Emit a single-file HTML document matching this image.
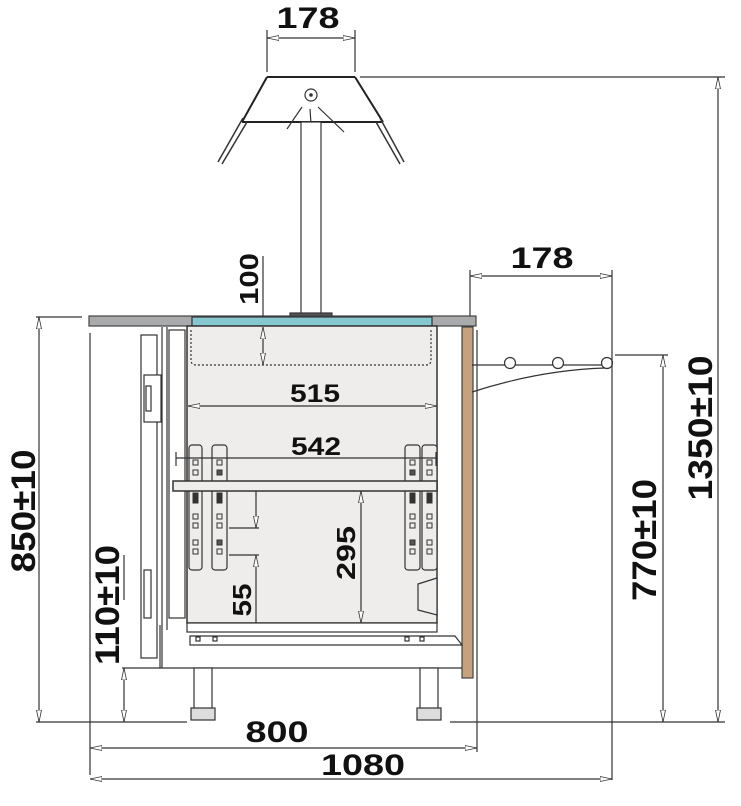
<!DOCTYPE html>
<html><head><meta charset="utf-8"><style>html,body{margin:0;padding:0;background:#fff}svg{display:block}text{font-family:"Liberation Sans",sans-serif;font-weight:bold;fill:#111}</style></head><body>
<svg width="741" height="806" viewBox="0 0 741 806" xmlns="http://www.w3.org/2000/svg">
<defs>
<marker id="a" viewBox="0 0 12 6" refX="12" refY="3" markerWidth="12" markerHeight="6" orient="auto-start-reverse" markerUnits="userSpaceOnUse"><path d="M0,0.5 L12,3 L0,5.5 Z" fill="#fff" stroke="#333" stroke-width="0.8"/></marker>
</defs>
<g stroke="#333" stroke-width="1.2" fill="none">
<!-- top 178 -->
<line x1="267" y1="30" x2="267" y2="72"/><line x1="355" y1="30" x2="355" y2="72"/>
<line x1="267" y1="38" x2="355" y2="38" marker-start="url(#a)" marker-end="url(#a)"/>
<!-- hood -->
<path d="M267,77 L355,77 M267,77 L242,122 M355,77 L383,122 M242,122 L383,122" stroke="#222" stroke-width="2"/>
<path d="M243,118 L218,162 M247,122 L222,164 M380,118 L404,162 M376,122 L400,164" stroke-width="1.5"/>
<circle cx="311" cy="95" r="6"/><circle cx="311" cy="95" r="1.2" fill="#333"/>
<path d="M302,107 L287,129 M310,109 L312,139 M318,107 L344,132"/>
<rect x="301" y="122" width="20" height="193" fill="#fff"/>
<rect x="290" y="313" width="42" height="3" fill="#555"/>
<line x1="360" y1="77" x2="725" y2="77"/>
<!-- 1350 -->
<line x1="718" y1="77" x2="718" y2="722" marker-start="url(#a)" marker-end="url(#a)"/>
<!-- countertop -->
<rect x="89" y="316" width="387" height="10" fill="#a9aaab" stroke="#444"/>
<rect x="192" y="317" width="240" height="9" fill="#86c8d0" stroke="#333"/>
<!-- cabinet interior -->
<rect x="187" y="326" width="250" height="297" fill="#eeedeb" stroke="#333" stroke-width="1.5"/>
<path d="M191,330 L191,360 Q191,365 196,365 L426,365 Q431,365 431,360 L431,330" stroke-dasharray="2,2"/>
<!-- left frame/door -->
<line x1="90" y1="333" x2="90" y2="775"/>
<rect x="141" y="335" width="16" height="323" fill="#fff"/>
<rect x="144" y="375" width="17" height="47" fill="#fff"/>
<rect x="146" y="386" width="5" height="25"/>
<rect x="144" y="570" width="7" height="48"/>
<line x1="162" y1="327" x2="162" y2="668"/>
<line x1="167" y1="327" x2="167" y2="630"/>
<rect x="169" y="330" width="16" height="288" fill="#fff"/>
<!-- wood panel -->
<rect x="462" y="327" width="11" height="351" fill="#c5a27d" stroke="#444"/>
<!-- base -->
<path d="M160,625 L160,668 L462,668"/>
<rect x="187" y="623" width="250" height="9" fill="#fff"/>
<path d="M190,636 L455,636 L462,645 L190,645 Z" fill="#fff"/>
<rect x="196" y="637" width="4" height="4"/><rect x="213" y="637" width="4" height="4"/><rect x="405" y="637" width="4" height="4"/><rect x="420" y="637" width="4" height="4"/>
<path d="M418,584 L437,578 L437,615 L418,610 Z" fill="#eeedeb"/>
<!-- legs -->
<rect x="194" y="668" width="18" height="42" fill="#fff"/><rect x="191" y="708" width="24" height="12" fill="#ddd"/>
<rect x="420" y="668" width="18" height="42" fill="#fff"/><rect x="417" y="708" width="24" height="12" fill="#ddd"/>
<!-- rails -->
<rect x="189" y="445" width="13" height="125" rx="3" fill="#eeedeb"/>
<rect x="212" y="445" width="15" height="125" rx="3" fill="#eeedeb"/>
<rect x="405" y="445" width="15" height="125" rx="3" fill="#eeedeb"/>
<rect x="422" y="445" width="15" height="125" rx="3" fill="#eeedeb"/>
<g stroke-width="1">
<rect x="193" y="460" width="5" height="5"/><rect x="193" y="470" width="5" height="5"/><rect x="193" y="493" width="5" height="10" fill="#333"/><rect x="193" y="514" width="5" height="5"/><rect x="193" y="523" width="5" height="5"/><rect x="193" y="540" width="5" height="5"/><rect x="193" y="549" width="5" height="5"/>
<rect x="217" y="460" width="5" height="5"/><rect x="217" y="470" width="5" height="5" fill="#555"/><rect x="217" y="493" width="5" height="10" fill="#333"/><rect x="217" y="514" width="5" height="5"/><rect x="217" y="523" width="5" height="5"/><rect x="217" y="540" width="5" height="5" fill="#555"/><rect x="217" y="549" width="5" height="5"/>
<rect x="410" y="460" width="5" height="5"/><rect x="410" y="470" width="5" height="5" fill="#555"/><rect x="410" y="493" width="5" height="10" fill="#333"/><rect x="410" y="514" width="5" height="5"/><rect x="410" y="523" width="5" height="5"/><rect x="410" y="540" width="5" height="5" fill="#555"/><rect x="410" y="549" width="5" height="5"/>
<rect x="427" y="460" width="5" height="5"/><rect x="427" y="470" width="5" height="5"/><rect x="427" y="493" width="5" height="10" fill="#333"/><rect x="427" y="514" width="5" height="5"/><rect x="427" y="523" width="5" height="5"/><rect x="427" y="540" width="5" height="5"/><rect x="427" y="549" width="5" height="5"/>
</g>
<rect x="173" y="481" width="264" height="10" fill="#eeedeb" stroke-width="1.5"/>
<!-- right rail -->
<line x1="472" y1="365" x2="612" y2="365"/>
<path d="M472,392 Q540,370 605,368"/>
<circle cx="510" cy="363" r="5.5" fill="#fff"/><circle cx="558" cy="363" r="5.5" fill="#fff"/><circle cx="607" cy="363" r="5.5" fill="#fff"/>
<!-- right 178 -->
<line x1="470" y1="270" x2="470" y2="316"/>
<line x1="612" y1="270" x2="612" y2="780"/>
<line x1="470" y1="276" x2="612" y2="276" marker-start="url(#a)" marker-end="url(#a)"/>
<!-- 770 -->
<line x1="615" y1="355" x2="668" y2="355"/>
<line x1="663" y1="355" x2="663" y2="722" marker-start="url(#a)" marker-end="url(#a)"/>
<!-- ground -->
<line x1="36" y1="722" x2="187" y2="722"/><line x1="450" y1="722" x2="725" y2="722"/>
<!-- 850 -->
<line x1="36" y1="317" x2="82" y2="317"/>
<line x1="39" y1="317" x2="39" y2="722" marker-start="url(#a)" marker-end="url(#a)"/>
<!-- 110 -->
<line x1="124" y1="555" x2="124" y2="600"/>
<line x1="122" y1="668" x2="160" y2="668"/>
<line x1="124" y1="668" x2="124" y2="722" marker-start="url(#a)" marker-end="url(#a)"/>
<!-- 800 / 1080 -->
<line x1="477" y1="330" x2="477" y2="752"/>
<line x1="90" y1="748" x2="477" y2="748" marker-start="url(#a)" marker-end="url(#a)"/>
<line x1="90" y1="779" x2="612" y2="779" marker-start="url(#a)" marker-end="url(#a)"/>
<!-- inner dims -->
<line x1="263" y1="256" x2="263" y2="316"/>
<line x1="263" y1="327" x2="263" y2="365" marker-start="url(#a)" marker-end="url(#a)"/>
<line x1="188" y1="406" x2="437" y2="406" marker-start="url(#a)" marker-end="url(#a)"/>
<line x1="176" y1="458" x2="436" y2="458"/>
<line x1="176" y1="452" x2="176" y2="466"/><line x1="436" y1="452" x2="436" y2="466"/>
<line x1="361" y1="491" x2="361" y2="623" marker-start="url(#a)" marker-end="url(#a)"/>
<line x1="256" y1="491" x2="256" y2="528" marker-end="url(#a)"/>
<line x1="256" y1="555" x2="256" y2="623" marker-start="url(#a)"/>
<line x1="229" y1="528" x2="259" y2="528"/><line x1="229" y1="555" x2="259" y2="555"/>
</g>
<!-- texts -->
<text x="308" y="28" font-size="30" text-anchor="middle" textLength="63" lengthAdjust="spacingAndGlyphs">178</text>
<text x="542" y="268" font-size="30" text-anchor="middle" textLength="63" lengthAdjust="spacingAndGlyphs">178</text>
<text x="277" y="742" font-size="30" text-anchor="middle" textLength="63" lengthAdjust="spacingAndGlyphs">800</text>
<text x="363" y="775" font-size="30" text-anchor="middle" textLength="84" lengthAdjust="spacingAndGlyphs">1080</text>
<text x="315" y="402" font-size="25" text-anchor="middle" textLength="50" lengthAdjust="spacingAndGlyphs">515</text>
<text x="316" y="455" font-size="25" text-anchor="middle" textLength="50" lengthAdjust="spacingAndGlyphs">542</text>
<text transform="translate(258,279) rotate(-90)" font-size="26" text-anchor="middle" textLength="52" lengthAdjust="spacingAndGlyphs">100</text>
<text transform="translate(355,553) rotate(-90)" font-size="26" text-anchor="middle" textLength="54" lengthAdjust="spacingAndGlyphs">295</text>
<text transform="translate(251,600) rotate(-90)" font-size="26" text-anchor="middle" textLength="33" lengthAdjust="spacingAndGlyphs">55</text>
<text transform="translate(35,511) rotate(-90)" font-size="34" text-anchor="middle" textLength="123" lengthAdjust="spacingAndGlyphs">850±10</text>
<text transform="translate(119,605) rotate(-90)" font-size="34" text-anchor="middle" textLength="120" lengthAdjust="spacingAndGlyphs">110±10</text>
<text transform="translate(656,540) rotate(-90)" font-size="34" text-anchor="middle" textLength="122" lengthAdjust="spacingAndGlyphs">770±10</text>
<text transform="translate(712,428) rotate(-90)" font-size="34" text-anchor="middle" textLength="145" lengthAdjust="spacingAndGlyphs">1350±10</text>
</svg>
</body></html>
